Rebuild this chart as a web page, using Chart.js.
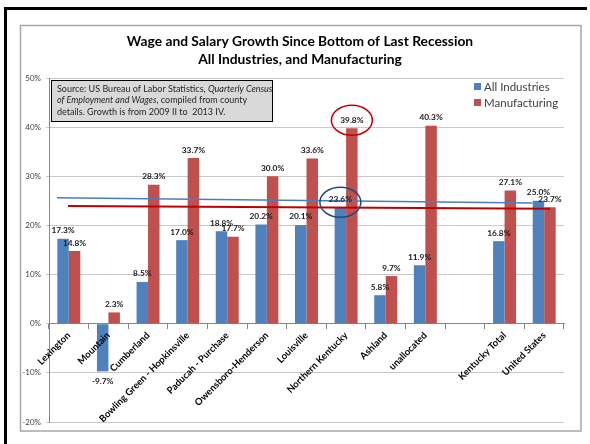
<!DOCTYPE html>
<html>
<head>
<meta charset="utf-8">
<script src="https://cdn.jsdelivr.net/npm/chart.js@4.4.1/dist/chart.umd.min.js"></script>
<style>
  html, body { margin: 0; padding: 0; background: #fff; }
  #wrap { width: 590px; height: 444px; }
</style>
</head>
<body>
<div id="wrap"><canvas id="myChart" width="590" height="444"></canvas></div>
<script>
const categories = ["Lexington", "Mountain", "Cumberland", "Bowling Green - Hopkinsville",
  "Paducah - Purchase", "Owensboro-Henderson", "Louisville", "Northern Kentucky",
  "Ashland", "unallocated", "", "Kentucky Total", "United States"];
const allIndustries = [17.3, -9.7, 8.5, 17.0, 18.8, 20.2, 20.1, 23.6, 5.8, 11.9, null, 16.8, 25.0];
const manufacturing = [14.8, 2.3, 28.3, 33.7, 17.7, 30.0, 33.6, 39.8, 9.7, 40.3, null, 27.1, 23.7];

// straight reference lines across the groups (x in category units)
const allLineX = [-0.3, 11.7];
const allLineY = [25.65, 24.55];
const mfgLineX = [-0.02, 12.15];
const mfgLineY = [23.95, 23.4];

// circled labels: category, series index, value at circle centre
const circles = [
  { cat: "Northern Kentucky", series: 1, value: 41.4, color: "#c00000" },
  { cat: "Northern Kentucky", series: 0, value: 24.7, color: "#1f497d" },
];

const yMin = -20, yMax = 50, yStep = 10;
const seriesNames = ["All Industries", "Manufacturing"];
const blue = "#4f81bd";
const red = "#c0504d";
const FONT = "Lato, 'Liberation Sans', sans-serif";

const sourceLines = [
  [["Source: US Bureau of Labor Statistics, ", false], ["Quarterly Census", true]],
  [["of Employment and Wages", true], [", compiled from county", false]],
  [["details. Growth is from 2009 II to  2013 IV.", false]],
];

const refLines = [
  { xs: allLineX, ys: allLineY, color: "#4a7ebb", width: 1.5 },
  { xs: mfgLineX, ys: mfgLineY, color: "#c00000", width: 2 },
];

const decor = {
  id: "decor",
  beforeDraw(chart) {
    const c = chart.ctx;
    c.save();
    c.fillStyle = "#fff";
    c.fillRect(0, 0, chart.width, chart.height);
    // outer black frame
    c.fillStyle = "#000";
    c.fillRect(4, 7, 583, 3);
    c.fillRect(4, 7, 3, 437);
    // chart border
    c.strokeStyle = "#a6a6a6";
    c.lineWidth = 1.5;
    c.strokeRect(20.5, 25.5, 560.5, 405.5);
    // title
    c.fillStyle = "#000";
    c.textAlign = "center";
    c.textBaseline = "middle";
    c.font = "bold 13.8px " + FONT;
    c.fillText("Wage and Salary Growth Since Bottom of Last Recession", 300, 42);
    c.fillText("All Industries, and Manufacturing", 300, 60);
    c.restore();
  },
  afterDatasetsDraw(chart) {
    const c = chart.ctx;
    const xs = chart.scales.x, ys = chart.scales.y;
    const p0 = xs.getPixelForValue(0);
    const step = xs.getPixelForValue(1) - p0;
    c.save();
    // reference lines
    refLines.forEach(l => {
      c.strokeStyle = l.color;
      c.lineWidth = l.width;
      c.beginPath();
      l.xs.forEach((xv, i) => {
        const px = p0 + xv * step, py = ys.getPixelForValue(l.ys[i]);
        if (i === 0) c.moveTo(px, py); else c.lineTo(px, py);
      });
      c.stroke();
    });
    // data labels
    c.font = "bold 8.3px " + FONT;
    c.fillStyle = "#1a1a1a";
    c.textAlign = "center";
    [0, 1].forEach(i => {
      const vals = chart.data.datasets[i].data;
      chart.getDatasetMeta(i).data.forEach((el, j) => {
        const v = vals[j];
        if (v === null) return;
        if (v < 0) {
          c.textBaseline = "top";
          c.fillText(v.toFixed(1) + "%", el.x, el.y + 6);
        } else {
          c.textBaseline = "bottom";
          c.fillText(v.toFixed(1) + "%", el.x, el.y - 4);
        }
      });
    });
    c.restore();
  },
  afterDraw(chart) {
    const c = chart.ctx;
    c.save();
    // source box
    c.fillStyle = "#d9d9d9";
    c.fillRect(51, 80, 221, 41);
    c.strokeStyle = "#000";
    c.lineWidth = 1;
    c.strokeRect(51.5, 80.5, 221, 41);
    c.fillStyle = "#262626";
    c.textAlign = "left";
    c.textBaseline = "middle";
    sourceLines.forEach((parts, i) => {
      let x = 57;
      parts.forEach(([txt, it]) => {
        c.font = (it ? "italic " : "") + "9px " + FONT;
        c.fillText(txt, x, 89 + i * 11.5);
        x += c.measureText(txt).width;
      });
    });
    // legend
    c.font = "11.5px " + FONT;
    [blue, red].forEach((col, i) => {
      c.fillStyle = col;
      c.fillRect(474, 83 + i * 16, 7, 7);
      c.fillStyle = "#404040";
      c.fillText(seriesNames[i], 484, 87 + i * 16);
    });
    // circles
    const ys = chart.scales.y;
    circles.forEach(o => {
      const j = categories.indexOf(o.cat);
      const el = chart.getDatasetMeta(o.series).data[j];
      c.strokeStyle = o.color;
      c.lineWidth = 1.5;
      c.beginPath();
      c.ellipse(el.x, ys.getPixelForValue(o.value), 20.5, 15, 0, 0, Math.PI * 2);
      c.stroke();
    });
    c.restore();
  },
};

const ctx = document.getElementById("myChart");
new Chart(ctx, {
  type: "bar",
  data: {
    labels: categories,
    datasets: [
      { label: seriesNames[0], data: allIndustries, backgroundColor: blue,
        categoryPercentage: 0.58, barPercentage: 1 },
      { label: seriesNames[1], data: manufacturing, backgroundColor: red,
        categoryPercentage: 0.58, barPercentage: 1 },
    ],
  },
  options: {
    responsive: false,
    animation: false,
    devicePixelRatio: 1,
    layout: { padding: { left: 20, right: 26, top: 78, bottom: 22 } },
    plugins: { legend: { display: false }, tooltip: { enabled: false } },
    scales: {
      x: {
        position: { y: 0 },
        grid: { display: true, offset: true, drawOnChartArea: false, drawTicks: true, tickLength: 5, color: "#868686" },
        border: { display: true, color: "#868686" },
        ticks: {
          z: 1,
          autoSkip: false, minRotation: 45, maxRotation: 45, padding: 1,
          color: "#000", font: { family: FONT, size: 9.5, weight: "bold" },
        },
      },
      y: {
        min: yMin, max: yMax,
        afterFit(s) { s.width = 29; },
        grid: { color: "#c8c8c8", tickLength: 3 },
        border: { display: true, color: "#868686" },
        ticks: {
          stepSize: yStep, padding: 5, color: "#404040",
          font: { family: FONT, size: 8 },
          callback: v => v + "%",
        },
      },
    },
  },
  plugins: [decor],
});
</script>
</body>
</html>
